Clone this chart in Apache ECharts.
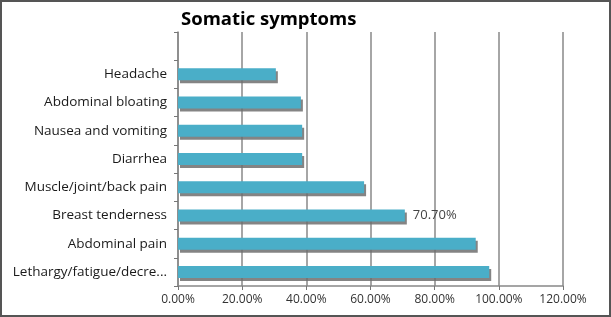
<!DOCTYPE html>
<html><head><meta charset="utf-8">
<script src="https://cdn.jsdelivr.net/npm/echarts@6/dist/echarts.min.js"></script>
<style>html,body{margin:0;padding:0;background:#fff}#c{width:611px;height:317px;box-sizing:border-box;border:2px solid #555}</style>
</head><body><div id="c"></div>
<script>
const categories = ['Lethargy/fatigue/decre...', 'Abdominal pain', 'Breast tenderness', 'Muscle/joint/back pain', 'Diarrhea', 'Nausea and vomiting', 'Abdominal bloating', 'Headache', ''];
const values = [97.0, 92.8, 70.7, 58.0, 38.7, 38.7, 38.3, 30.5, null];
const labelledCategory = 'Breast tenderness';

const chart = echarts.init(document.getElementById('c'));
chart.setOption({
  animation: false,
  title: { text: 'Somatic symptoms', left: 174, top: 3,
    textStyle: { fontFamily: 'Open Sans', fontWeight: 'bold', fontSize: 18.5, color: '#000' } },
  grid: { left: 176, right: 46, top: 30, bottom: 29 },
  xAxis: { type: 'value', min: 0, max: 120, interval: 20,
    axisLine: { show: true, lineStyle: { color: '#888', width: 1.5 } },
    axisTick: { show: true, length: 4, lineStyle: { color: '#777' } },
    splitLine: { show: true, lineStyle: { color: '#888', width: 1.5 } },
    axisLabel: { formatter: v => v.toFixed(2) + '%', fontFamily: 'Open Sans', fontSize: 12, color: '#333', margin: 8 } },
  yAxis: { type: 'category', data: categories,
    axisLine: { show: true, lineStyle: { color: '#888', width: 1.5 } },
    axisTick: { show: true, length: 4, lineStyle: { color: '#777' } },
    axisLabel: { fontFamily: 'Open Sans', fontSize: 13.5, color: '#1a1a1a', margin: 11 } },
  series: [{
    type: 'bar', data: values, barWidth: 12,
    itemStyle: { color: '#4aaec8', shadowColor: 'rgba(110,110,110,0.85)', shadowOffsetX: 2, shadowOffsetY: 3, shadowBlur: 0 },
    label: { show: true, position: 'right', distance: 8, fontFamily: 'Open Sans', fontSize: 13, color: '#444',
      formatter: p => p.name === labelledCategory ? p.value.toFixed(2) + '%' : '' }
  }]
});
</script></body></html>
